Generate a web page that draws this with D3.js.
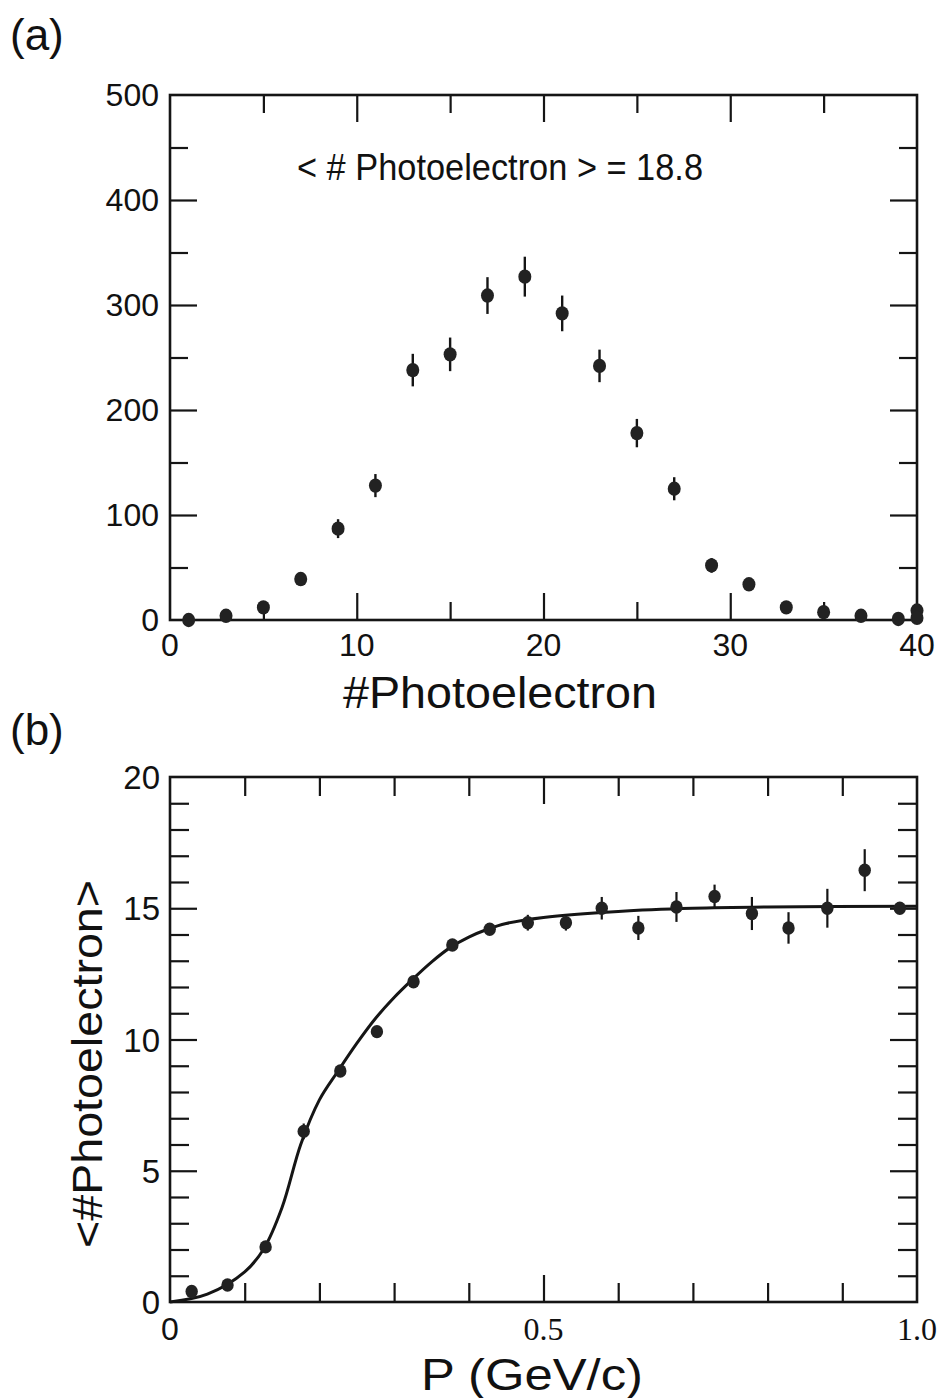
<!DOCTYPE html>
<html>
<head>
<meta charset="utf-8">
<script src="https://cdn.jsdelivr.net/npm/d3@7"></script>
<style>
  html, body { margin: 0; padding: 0; background: #fff; }
  svg { display: block; }
  text { font-family: "Liberation Sans", "DejaVu Sans", sans-serif; fill: #111; }
</style>
</head>
<body>
<svg id="chart" width="942" height="1398"></svg>
<script>
// ---------- Panel (a) data ----------
const aX      = [1, 3, 5, 7, 9, 11, 13, 15, 17, 19, 21, 23, 25, 27, 29, 31, 33, 35, 37, 39, 40, 40];
const aCounts = [0, 4, 12, 39, 87, 128, 238, 253, 309, 327, 292, 242, 178, 125, 52, 34, 12, 7.5, 4, 1, 9, 2];
const aErr    = [1, 2, 3.5, 6, 9, 11, 15.5, 16, 17.5, 19, 17, 15.5, 13.5, 11, 7, 6, 3.5, 6, 2, 1, 3, 1];
const aXMajor = [10, 20, 30];
const aXMinor = [5, 15, 25, 35];
const aYMajor = [100, 200, 300, 400];
const aYMinor = [50, 150, 250, 350, 450];
const aXLabels = [0, 10, 20, 30, 40];
const aYLabels = [0, 100, 200, 300, 400, 500];

// ---------- Panel (b) data ----------
const bP    = [0.029, 0.077, 0.128, 0.179, 0.228, 0.277, 0.326, 0.378, 0.428, 0.479,
               0.530, 0.578, 0.627, 0.678, 0.729, 0.779, 0.828, 0.880, 0.930, 0.977];
const bMean = [0.4, 0.65, 2.1, 6.5, 8.8, 10.3, 12.2, 13.6, 14.2, 14.45,
               14.45, 15.0, 14.25, 15.05, 15.45, 14.8, 14.25, 15.0, 16.45, 15.0];
const bErr  = [0.1, 0.1, 0.1, 0.3, 0.1, 0.1, 0.1, 0.1, 0.2, 0.3,
               0.3, 0.43, 0.46, 0.57, 0.45, 0.63, 0.6, 0.74, 0.8, 0.2];
const fitP  = [0.0, 0.05, 0.1, 0.125, 0.15, 0.175, 0.2, 0.225, 0.25, 0.275, 0.3, 0.325,
               0.35, 0.375, 0.4, 0.425, 0.45, 0.5, 0.6, 0.7, 0.8, 1.0];
const fitV  = [0.0, 0.3, 1.15, 2.0, 3.6, 6.0, 7.7, 8.8, 9.85, 10.8, 11.6, 12.3,
               12.95, 13.5, 13.9, 14.2, 14.42, 14.65, 14.88, 15.0, 15.05, 15.08];
const bXMajor = [0.5];
const bXMinor = [0.1, 0.2, 0.3, 0.4, 0.6, 0.7, 0.8, 0.9];
const bYMajor = [5, 10, 15];
const bYMinor = [1, 2, 3, 4, 6, 7, 8, 9, 11, 12, 13, 14, 16, 17, 18, 19];
const bXLabels = [{v: 0, t: "0", serif: false}, {v: 0.5, t: "0.5", serif: true}, {v: 1.0, t: "1.0", serif: true}];
const bYLabels = [0, 5, 10, 15, 20];

const svg = d3.select("#chart");
const INK = "#151515";

function frameTicks(g, x, y, xMaj, xMin, yMaj, yMin, L, R, T, B, majLen, minLen) {
  const tk = (sel) => sel.call(s => s.select(".domain").remove())
                         .call(s => s.selectAll("line").attr("stroke", INK).attr("stroke-width", 2.2));
  g.append("g").attr("transform", `translate(0,${B})`).call(d3.axisBottom(x).tickValues(xMaj).tickSize(-majLen).tickFormat("")).call(tk);
  g.append("g").attr("transform", `translate(0,${B})`).call(d3.axisBottom(x).tickValues(xMin).tickSize(-minLen).tickFormat("")).call(tk);
  g.append("g").attr("transform", `translate(0,${T})`).call(d3.axisTop(x).tickValues(xMaj).tickSize(-majLen).tickFormat("")).call(tk);
  g.append("g").attr("transform", `translate(0,${T})`).call(d3.axisTop(x).tickValues(xMin).tickSize(-minLen).tickFormat("")).call(tk);
  g.append("g").attr("transform", `translate(${L},0)`).call(d3.axisLeft(y).tickValues(yMaj).tickSize(-majLen).tickFormat("")).call(tk);
  g.append("g").attr("transform", `translate(${L},0)`).call(d3.axisLeft(y).tickValues(yMin).tickSize(-minLen).tickFormat("")).call(tk);
  g.append("g").attr("transform", `translate(${R},0)`).call(d3.axisRight(y).tickValues(yMaj).tickSize(-majLen).tickFormat("")).call(tk);
  g.append("g").attr("transform", `translate(${R},0)`).call(d3.axisRight(y).tickValues(yMin).tickSize(-minLen).tickFormat("")).call(tk);
  g.append("rect").attr("x", L).attr("y", T).attr("width", R - L).attr("height", B - T)
    .attr("fill", "none").attr("stroke", INK).attr("stroke-width", 2.6);
}

// ================= Panel (a) =================
{
  const L = 170, R = 917, T = 95, B = 620;
  const x = d3.scaleLinear().domain([0, 40]).range([L, R]);
  const y = d3.scaleLinear().domain([0, 500]).range([B, T]);
  const g = svg.append("g");
  frameTicks(g, x, y, aXMajor, aXMinor, aYMajor, aYMinor, L, R, T, B, 27, 18);

  g.selectAll(".xl").data(aXLabels).join("text")
    .attr("x", d => x(d)).attr("y", 656).attr("text-anchor", "middle")
    .attr("font-size", 32).text(d => d);
  g.selectAll(".yl").data(aYLabels).join("text")
    .attr("x", 159).attr("y", d => y(d) + 11).attr("text-anchor", "end")
    .attr("font-size", 32).text(d => d);

  const pts = aX.map((v, i) => ({x: v, y: aCounts[i], e: aErr[i]}));
  g.selectAll(".eb").data(pts).join("line")
    .attr("x1", d => x(d.x)).attr("x2", d => x(d.x))
    .attr("y1", d => y(Math.max(0, d.y - d.e))).attr("y2", d => y(d.y + d.e))
    .attr("stroke", INK).attr("stroke-width", 2.4);
  g.selectAll(".pt").data(pts).join("ellipse")
    .attr("cx", d => x(d.x)).attr("cy", d => y(d.y)).attr("rx", 6.5).attr("ry", 7.2)
    .attr("fill", "#222");

  g.append("text").attr("x", 500).attr("y", 708).attr("text-anchor", "middle")
    .attr("font-size", 44).attr("textLength", 314).attr("lengthAdjust", "spacingAndGlyphs")
    .text("#Photoelectron");
  g.append("text").attr("x", 297).attr("y", 180)
    .attr("font-size", 36).attr("textLength", 406).attr("lengthAdjust", "spacingAndGlyphs")
    .text("< # Photoelectron > = 18.8");
  svg.append("text").attr("x", 10).attr("y", 50).attr("font-size", 44).text("(a)");
}

// ================= Panel (b) =================
{
  const L = 170, R = 917, T = 777, B = 1302;
  const x = d3.scaleLinear().domain([0, 1]).range([L, R]);
  const y = d3.scaleLinear().domain([0, 20]).range([B, T]);
  const g = svg.append("g");
  frameTicks(g, x, y, bXMajor, bXMinor, bYMajor, bYMinor, L, R, T, B, 27, 19);

  g.selectAll(".xl").data(bXLabels).join("text")
    .attr("x", d => x(d.v)).attr("y", 1340).attr("text-anchor", "middle")
    .attr("font-size", 32)
    .style("font-family", d => d.serif ? "'Liberation Serif', 'DejaVu Serif', serif" : null)
    .text(d => d.t);
  g.selectAll(".yl").data(bYLabels).join("text")
    .attr("x", 160).attr("y", d => y(d) + 12).attr("text-anchor", "end")
    .attr("font-size", 33).text(d => d);

  const fit = fitP.map((p, i) => [p, fitV[i]]);
  g.append("path").datum(fit)
    .attr("d", d3.line().x(d => x(d[0])).y(d => y(d[1])).curve(d3.curveCatmullRom.alpha(0.5)))
    .attr("fill", "none").attr("stroke", INK).attr("stroke-width", 3);

  const pts = bP.map((p, i) => ({x: p, y: bMean[i], e: bErr[i]}));
  g.selectAll(".eb").data(pts).join("line")
    .attr("x1", d => x(d.x)).attr("x2", d => x(d.x))
    .attr("y1", d => y(d.y - d.e)).attr("y2", d => y(d.y + d.e))
    .attr("stroke", INK).attr("stroke-width", 2.2);
  g.selectAll(".pt").data(pts).join("ellipse")
    .attr("cx", d => x(d.x)).attr("cy", d => y(d.y)).attr("rx", 6.2).attr("ry", 6.7)
    .attr("fill", "#222");

  g.append("text").attr("x", 532).attr("y", 1390).attr("text-anchor", "middle")
    .attr("font-size", 44).attr("textLength", 222).attr("lengthAdjust", "spacingAndGlyphs")
    .text("P (GeV/c)");
  g.append("text").attr("transform", "translate(102,1064) rotate(-90)")
    .attr("text-anchor", "middle").attr("font-size", 42)
    .attr("textLength", 368).attr("lengthAdjust", "spacingAndGlyphs")
    .text("<#Photoelectron>");
  svg.append("text").attr("x", 10).attr("y", 745).attr("font-size", 44).text("(b)");
}
</script>
</body>
</html>
